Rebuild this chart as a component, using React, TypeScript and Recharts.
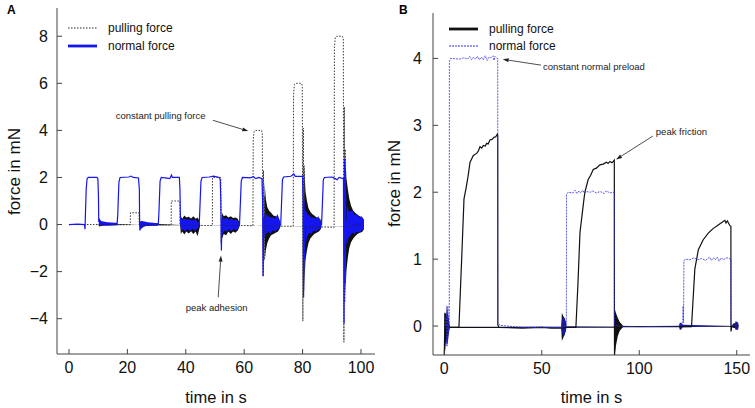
import React from 'react'
import {
  Area,
  ComposedChart,
  Line,
  ReferenceDot,
  ReferenceLine,
  XAxis,
  YAxis,
} from 'recharts'

const FONT = '"Liberation Sans", Arial, Helvetica, sans-serif'

// ---- panel A: stepped pulling force, constant normal force pulses ----
const xTicksA = [0, 20, 40, 60, 80, 100]
const yTicksA = [-4, -2, 0, 2, 4, 6, 8]

// [time s, force mN]
const pullA = [
  [0, 0], [21, 0], [21.05, 0.5], [24, 0.5], [24.05, -0.02], [35, -0.02], [35.05, 1.0],
  [38, 1.0], [38.05, -0.03], [44.8, -0.04], [49.1, -0.04], [49.15, 2.0], [52, 2.0],
  [52.1, -0.8], [52.3, 0.3], [52.5, -0.04], [58.4, -0.04], [63.0, -0.05], [63.1, 3.6],
  [63.4, 3.95], [63.8, 4.0], [65.9, 4.0], [66.2, 3.9], [66.45, -2.2], [66.6, 2.3],
  [66.8, -1.5], [67.0, 1.2], [67.3, -0.05], [72.4, -0.07], [76.8, -0.07], [76.9, 5.5],
  [77.2, 5.95], [77.7, 6.0], [79.6, 6.0], [79.9, 5.9], [80.1, -4.1], [80.25, 4.1],
  [80.4, -2.8], [80.55, 2.5], [80.8, -0.1], [86.4, -0.1], [90.8, -0.12], [90.9, 7.5],
  [91.2, 7.95], [91.7, 8.0], [93.6, 8.0], [93.95, 7.9], [94.15, -5.0], [94.3, 5.0],
  [94.45, -3.3], [94.6, 3.2], [94.8, -0.1], [101, 0],
]

// [time, low, high] envelope of the oscillating pulling force
const pullNoiseA = [
  [10.1, 0, 0], [10.3, -0.08, 0.06], [12, -0.03, 0.03], [24.2, -0.02, -0.02], [24.4, -0.2, 0.1],
  [26, -0.06, 0.05], [30.5, -0.03, 0.02], [38.1, -0.03, -0.02], [38.3, -0.4, 0.35],
  [38.8, -0.3, 0.25], [39.5, -0.42, 0.38], [40.2, -0.3, 0.3], [41, -0.38, 0.33],
  [41.8, -0.28, 0.26], [42.6, -0.4, 0.35], [43.4, -0.3, 0.25], [44, -0.5, 0.3],
  [44.5, -0.25, 0.2], [44.8, -0.1, 0.05], [45, -0.04, -0.04],
  [52.3, -0.04, -0.03], [52.4, -0.6, 0.5], [53, -0.4, 0.35], [53.8, -0.45, 0.4],
  [54.6, -0.3, 0.3], [55.4, -0.4, 0.35], [56.2, -0.3, 0.28], [57, -0.35, 0.3],
  [57.8, -0.25, 0.25], [58.3, -0.12, 0.1], [58.5, -0.04, -0.04],
  [66.9, -0.05, -0.04], [67.0, -1.6, 1.8], [67.4, -1.1, 1.1], [67.9, -0.8, 0.75],
  [68.5, -0.6, 0.6], [69.2, -0.45, 0.5], [70, -0.4, 0.38], [70.8, -0.35, 0.35],
  [71.6, -0.3, 0.3], [72.2, -0.15, 0.15], [72.5, -0.07, -0.07],
  [80.5, -0.08, -0.07], [80.6, -2.6, 2.4], [81, -1.5, 1.4], [81.5, -1.1, 1.0], [82, -0.8, 0.7],
  [82.6, -0.6, 0.55], [83.3, -0.5, 0.45], [84, -0.4, 0.38], [84.8, -0.35, 0.3],
  [85.6, -0.3, 0.28], [86.2, -0.2, 0.2], [86.5, -0.1, -0.1],
  [94.55, -0.1, -0.09], [94.65, -3.0, 3.0], [95, -2.0, 2.0], [95.5, -1.4, 1.5], [96, -1.0, 1.1],
  [96.6, -0.75, 0.8], [97.3, -0.6, 0.6], [98, -0.5, 0.5], [98.8, -0.4, 0.42],
  [99.6, -0.35, 0.35], [100.4, -0.32, 0.3], [101, -0.2, 0.2],
]

const normalA = [
  [0, 0], [3, 0.02], [5.3, 0.0], [5.5, -0.2], [5.6, 0.3], [5.9, 1.5], [6.2, 1.95], [6.6, 2.0],
  [9.6, 2.0], [9.9, 1.95], [10.1, 1.2], [10.2, 0.1], [10.4, 0.25], [10.6, 0.05], [13, 0.05],
  [16.5, 0.05], [16.7, 0.4], [17.1, 1.8], [17.5, 2.0], [20.5, 2.02], [21.2, 2.06], [22, 2.0],
  [23.8, 1.98], [24.1, 1.5], [24.2, 0.0], [24.3, -0.25], [24.5, 0.1], [27, 0.02], [30.6, 0.02],
  [30.8, 0.5], [31.2, 1.85], [31.6, 2.0], [33.5, 1.97], [34.5, 1.95], [35.1, 2.1], [35.4, 2.0],
  [37.8, 2.0], [38.0, 1.5], [38.2, 0.0], [44.6, 0.0], [44.8, 0.6], [45.2, 1.85], [45.6, 2.0],
  [48, 2.02], [49.5, 2.06], [51.5, 2.0], [51.8, 1.9], [52.0, 1.0], [52.2, -1.1], [52.4, 0.2],
  [52.6, 0.0], [58.4, 0.0], [58.6, 0.6], [59.0, 1.85], [59.4, 2.0], [62, 1.98], [63.2, 2.03],
  [64, 1.95], [65, 2.0], [66.1, 1.95], [66.3, 1.0], [66.5, -2.2], [66.7, 0.3], [66.9, 0.0],
  [72.5, 0.0], [72.7, 0.6], [73.1, 1.9], [73.5, 2.02], [76, 2.05], [77, 2.15], [77.5, 2.05],
  [80.0, 2.05], [80.2, 1.0], [80.35, -3.1], [80.5, 1.0], [80.7, -1.5], [80.9, 0.6], [81.2, 0.0],
  [86.5, 0.0], [86.7, 0.6], [87.1, 1.9], [87.5, 2.0], [90, 2.02], [91.2, 1.95], [91.8, 1.9],
  [92.5, 2.0], [94.0, 1.95], [94.2, -4.2], [94.35, 2.8], [94.5, -2.5], [94.7, 1.5],
  [94.9, -0.8], [95.2, 0.1], [101, 0.0],
]

const normalNoiseA = [
  [10.2, 0, 0], [10.4, -0.05, 0.25], [11, -0.05, 0.15], [13, -0.05, 0.1], [16.5, -0.03, 0.05],
  [16.6, 0.05, 0.05], [24.3, 0.0, 0.0], [24.5, -0.25, 0.15], [25, -0.1, 0.15], [27, -0.05, 0.1],
  [30.5, -0.05, 0.05], [30.6, 0.02, 0.02],
  [38.2, 0, 0], [38.4, -0.3, 0.28], [39, -0.2, 0.2], [39.8, -0.3, 0.25], [40.6, -0.18, 0.2],
  [41.4, -0.28, 0.22], [42.2, -0.18, 0.18], [43, -0.25, 0.22], [43.8, -0.2, 0.15],
  [44.4, -0.1, 0.08], [44.6, 0, 0],
  [52.4, 0, 0], [52.5, -0.45, 0.35], [53.2, -0.25, 0.25], [54, -0.3, 0.28], [54.8, -0.2, 0.2],
  [55.6, -0.28, 0.25], [56.4, -0.18, 0.18], [57.2, -0.25, 0.22], [58, -0.15, 0.12], [58.35, 0, 0],
  [66.8, 0, 0], [66.9, -0.6, 0.5], [67.5, -0.4, 0.45], [68.2, -0.3, 0.35], [69, -0.38, 0.3],
  [69.8, -0.25, 0.3], [70.6, -0.3, 0.25], [71.4, -0.2, 0.45], [72.1, -0.2, 0.2], [72.4, 0, 0],
  [81.0, 0, 0], [81.1, -0.8, 0.6], [81.6, -0.5, 0.45], [82.3, -0.35, 0.38], [83, -0.4, 0.3],
  [83.8, -0.25, 0.3], [84.6, -0.3, 0.25], [85.4, -0.2, 0.35], [86.1, -0.2, 0.15], [86.4, 0, 0],
  [95.1, 0, 0], [95.2, -0.9, 0.8], [95.7, -0.55, 0.6], [96.4, -0.45, 0.55], [97.1, -0.35, 0.6],
  [97.8, -0.4, 0.4], [98.6, -0.3, 0.45], [99.4, -0.35, 0.3], [100.2, -0.25, 0.35], [101, -0.2, 0.2],
]

// ---- panel B: constant normal preload, pulling force builds to peak friction ----
const xTicksB = [0, 50, 100, 150]
const yTicksB = [0, 1, 2, 3, 4]

const pullB = [
  [0, -0.45], [0.3, 0.2], [0.6, -0.2], [0.9, 0.15], [1.2, -0.15], [1.5, 0.1], [1.8, -0.1],
  [2.1, 0.05], [2.5, -0.03], [3, -0.02], [7.5, -0.02], [8.9, 1.0], [10.1, 1.9], [11.1, 2.05],
  [12.2, 2.24], [13.2, 2.45], [14.9, 2.55], [16.6, 2.58], [17.5, 2.62], [18.3, 2.68],
  [19.2, 2.66], [20, 2.7], [21, 2.69], [21.7, 2.73], [22.5, 2.72], [23.4, 2.78], [24.5, 2.79],
  [25.5, 2.82], [26.4, 2.83], [27.2, 2.87], [27.4, 2.85], [27.45, 0.02], [28, -0.02],
  [40, -0.03], [50, -0.02], [55, -0.03], [60, -0.03], [62.5, -0.02], [67.5, -0.02],
  [68.5, 0.6], [69.6, 1.4], [71.6, 1.89], [72.1, 2.0], [73.8, 2.19], [75, 2.25], [76.4, 2.34],
  [78, 2.36], [79.8, 2.41], [81.5, 2.42], [83.2, 2.45], [84, 2.43], [85, 2.46], [86, 2.44],
  [87.2, 2.48], [87.25, 0.25], [87.3, -0.45], [88, -0.01], [92, -0.01], [110, -0.01],
  [126.8, -0.01], [128.5, 0.85], [130.3, 1.14], [132.8, 1.29], [135.4, 1.39], [138, 1.46],
  [140, 1.5], [141.4, 1.53], [142.5, 1.55], [143.9, 1.58], [144.5, 1.54], [145.2, 1.57],
  [146.5, 1.5], [147, 1.49], [147.05, -0.08], [147.5, 0], [150.8, 0],
]

const pullNoiseB = [
  [0.2, -0.45, 0.2], [0.8, -0.25, 0.18], [1.5, -0.2, 0.15], [2.2, -0.1, 0.08], [2.8, -0.03, -0.01],
  [60, -0.03, -0.02], [60.3, -0.22, 0.2], [61, -0.18, 0.15], [62, -0.1, 0.1], [62.5, -0.03, -0.02],
  [87.25, -0.03, -0.02], [87.3, -0.44, 0.27], [88, -0.3, 0.2], [89, -0.15, 0.12], [90, -0.07, 0.06],
  [91.8, -0.01, 0.0], [147.2, -0.01, 0.0], [148.5, -0.03, 0.04], [150.8, -0.03, 0.03],
]

const normalB = [
  [0.5, 0], [1.0, 0.15], [1.4, -0.3], [1.8, 0.3], [2.2, -0.1], [2.55, 0.05], [2.6, 3.95],
  [3.2, 4.0], [8, 3.99], [10, 4.01], [12, 3.99], [13, 4.03], [14, 3.98], [15, 4.02], [16, 3.99],
  [17, 4.03], [18, 3.98], [19, 4.02], [20, 3.98], [21, 4.04], [22, 3.97], [23, 4.02], [24, 4.01],
  [25, 4.04], [25.5, 3.97], [26, 4.03], [27, 4.0], [27.4, 4.0], [27.45, 0.05], [28.5, 0.01],
  [40, -0.02], [60, -0.02], [62.6, 0.0], [62.7, 1.97], [63.5, 2.0], [66, 1.99], [67, 2.03],
  [68, 1.98], [69, 2.02], [70, 1.99], [71, 2.03], [72, 1.98], [73, 2.01], [75, 2.0], [76, 2.02],
  [78, 1.99], [80, 2.01], [82, 1.98], [83, 2.02], [85, 1.99], [87.2, 2.0], [87.25, 0.02],
  [89, 0.0], [100, -0.01], [120, 0.0], [122.3, 0.02], [122.5, 0.3], [122.7, 0.05], [122.9, 0.98],
  [124, 1.0], [126, 0.99], [128, 1.02], [130, 0.99], [132, 1.01], [134, 0.98], [136, 1.03],
  [137, 0.98], [138, 1.02], [139, 0.99], [140, 1.03], [141, 0.97], [142, 1.02], [143, 0.99],
  [145, 1.02], [147, 1.0], [147.05, 0.01], [150.8, 0.0],
]

const normalNoiseB = [
  [0.8, -0.05, 0.05], [1.2, -0.3, 0.32], [1.8, -0.25, 0.2], [2.4, -0.1, 0.1], [2.6, 0, 0],
  [60, -0.02, -0.01], [60.5, -0.12, 0.12], [61.5, -0.15, 0.12], [62.5, -0.05, 0.05],
  [62.6, -0.01, 0], [120.3, 0, 0], [120.8, -0.06, 0.05], [121.5, -0.05, 0.05], [122.3, -0.02, 0.02],
  [148.5, 0, 0], [149.5, -0.06, 0.07], [150.8, -0.05, 0.05],
]

const toPts = (arr: number[][]) => arr.map(([t, v]) => ({ t, v }))
const toBand = (arr: number[][]) => arr.map(([t, lo, hi]) => ({ t, r: [lo, hi] }))

const minus = (v: number) => (v < 0 ? `\u2212${Math.abs(v)}` : String(v))

const tickStyle = { fontSize: 16, fill: '#111', fontFamily: FONT }
const axisColor = '#444'

function Arrow(props: any) {
  const { x1, y1, x2, y2 } = props
  const a = Math.atan2(y2 - y1, x2 - x1)
  const L = 6
  const W = 2
  const bx = x2 - L * Math.cos(a)
  const by = y2 - L * Math.sin(a)
  const px = -Math.sin(a) * W
  const py = Math.cos(a) * W
  return (
    <g>
      <line x1={x1} y1={y1} x2={bx} y2={by} stroke="#222" strokeWidth={0.8} />
      <polygon points={`${x2},${y2} ${bx + px},${by + py} ${bx - px},${by - py}`} fill="#222" />
    </g>
  )
}

const yTitle = (x: number, y: number) => () => (
  <text
    x={x}
    y={y}
    transform={`rotate(-90 ${x} ${y})`}
    textAnchor="middle"
    fontSize={17}
    fontFamily={FONT}
    fill="#111"
  >
    force in mN
  </text>
)

function LegendRow({ top, left, sample, label }: any) {
  return (
    <div style={{ position: 'absolute', top, left, height: 14, display: 'flex', alignItems: 'center' }}>
      <svg width={30} height={14}>{sample}</svg>
      <span style={{ marginLeft: 10, fontSize: 12, lineHeight: '14px', fontFamily: FONT, color: '#111' }}>
        {label}
      </span>
    </div>
  )
}

function PanelA() {
  return (
    <ComposedChart width={380} height={408} margin={{ top: 8, right: 5, bottom: 0, left: 0 }}>
      <XAxis
        type="number"
        dataKey="t"
        domain={[-4.1, 104.8]}
        ticks={xTicksA}
        allowDataOverflow
        height={54}
        tickSize={-5}
        tickMargin={13}
        tick={tickStyle}
        stroke={axisColor}
        label={{ value: 'time in s', position: 'insideBottom', offset: 5, fontSize: 16.5, fill: '#111', fontFamily: FONT }}
      />
      <XAxis xAxisId="top" orientation="top" type="number" dataKey="t" domain={[-4.1, 104.8]}
        ticks={xTicksA} allowDataOverflow height={0} tickSize={-5} tick={false} stroke={axisColor} />
      <YAxis
        type="number"
        domain={[-5.5, 9.2]}
        ticks={yTicksA}
        allowDataOverflow
        width={57}
        tickSize={-5}
        tickMargin={14}
        tick={tickStyle}
        tickFormatter={minus}
        stroke={axisColor}
        label={{ content: yTitle(20, 171.5) }}
      />
      <YAxis yAxisId="right" orientation="right" type="number" domain={[-5.5, 9.2]} ticks={yTicksA}
        allowDataOverflow width={0} tickSize={-5} tick={false} stroke={axisColor} />

      <Area data={toBand(pullNoiseA)} dataKey="r" type="linear" stroke="none" fill="#111" fillOpacity={1} isAnimationActive={false} />
      <Line data={toPts(pullA)} dataKey="v" type="linear" stroke="#222" strokeWidth={0.9} strokeDasharray="1.5 1.5" dot={false} activeDot={false} isAnimationActive={false} />
      <Area data={toBand(normalNoiseA)} dataKey="r" type="linear" stroke="none" fill="#1515f0" fillOpacity={1} isAnimationActive={false} />
      <Line data={toPts(normalA)} dataKey="v" type="linear" stroke="#1515f0" strokeWidth={1.2} dot={false} activeDot={false} isAnimationActive={false} />

      <ReferenceLine segment={[{ x: 49.3, y: 4.43 }, { x: 61.4, y: 3.97 }]} shape={Arrow} />
      <ReferenceDot x={16.0} y={4.61} r={0} stroke="none"
        label={{ value: 'constant pulling force', position: 'right', offset: 0, fontSize: 9.5, fill: '#222', fontFamily: FONT }} />
      <ReferenceLine segment={[{ x: 51.1, y: -3.09 }, { x: 52.05, y: -1.32 }]} shape={Arrow} />
      <ReferenceDot x={40.0} y={-3.52} r={0} stroke="none"
        label={{ value: 'peak adhesion', position: 'right', offset: 0, fontSize: 9.5, fill: '#222', fontFamily: FONT }} />
    </ComposedChart>
  )
}

function PanelB() {
  return (
    <ComposedChart width={375} height={408} margin={{ top: 13, right: 5, bottom: 0, left: 0 }}>
      <XAxis
        type="number"
        dataKey="t"
        domain={[-5.8, 156.8]}
        ticks={xTicksB}
        allowDataOverflow
        height={53}
        tickSize={-5}
        tickMargin={13}
        tick={tickStyle}
        stroke={axisColor}
        label={{ value: 'time in s', position: 'insideBottom', offset: 5, fontSize: 16.5, fill: '#111', fontFamily: FONT }}
      />
      <XAxis xAxisId="top" orientation="top" type="number" dataKey="t" domain={[-5.8, 156.8]}
        ticks={xTicksB} allowDataOverflow height={0} tickSize={-5} tick={false} stroke={axisColor} />
      <YAxis
        type="number"
        domain={[-0.433, 4.679]}
        ticks={yTicksB}
        allowDataOverflow
        width={53}
        tickSize={-5}
        tickMargin={16}
        tick={tickStyle}
        stroke={axisColor}
        label={{ content: yTitle(20, 183.5) }}
      />
      <YAxis yAxisId="right" orientation="right" type="number" domain={[-0.433, 4.679]} ticks={yTicksB}
        allowDataOverflow width={0} tickSize={-5} tick={false} stroke={axisColor} />

      <Area data={toBand(pullNoiseB)} dataKey="r" type="linear" stroke="none" fill="#111" fillOpacity={1} isAnimationActive={false} />
      <Line data={toPts(pullB)} dataKey="v" type="linear" stroke="#111" strokeWidth={1.2} dot={false} activeDot={false} isAnimationActive={false} />
      <Area data={toBand(normalNoiseB)} dataKey="r" type="linear" stroke="none" fill="#1a1a9a" fillOpacity={1} isAnimationActive={false} />
      <Line data={toPts(normalB)} dataKey="v" type="linear" stroke="#3030f0" strokeWidth={0.8} strokeDasharray="2 1" dot={false} activeDot={false} isAnimationActive={false} />

      <ReferenceLine segment={[{ x: 49.6, y: 3.9 }, { x: 29.96, y: 3.987 }]} shape={Arrow} />
      <ReferenceDot x={50.6} y={3.87} r={0} stroke="none"
        label={{ value: 'constant normal preload', position: 'right', offset: 0, fontSize: 9.5, fill: '#222', fontFamily: FONT }} />
      <ReferenceLine segment={[{ x: 107.0, y: 2.84 }, { x: 88.1, y: 2.49 }]} shape={Arrow} />
      <ReferenceDot x={108.5} y={2.905} r={0} stroke="none"
        label={{ value: 'peak friction', position: 'right', offset: 0, fontSize: 9.5, fill: '#222', fontFamily: FONT }} />
    </ComposedChart>
  )
}

const panelTitle = (text: string, left: number) => (
  <div style={{ position: 'absolute', top: 3, left, fontSize: 12, lineHeight: '14px', fontWeight: 'bold', fontFamily: FONT }}>
    {text}
  </div>
)

export default function App() {
  return (
    <div style={{ position: 'absolute', left: 0, top: 0, width: 755, height: 408, background: '#fff' }}>
      <div style={{ position: 'absolute', left: 0, top: 0 }}>
        <PanelA />
      </div>
      <div style={{ position: 'absolute', left: 380, top: 0 }}>
        <PanelB />
      </div>
      {panelTitle('A', 7)}
      {panelTitle('B', 399)}

      <LegendRow top={21} left={68} label="pulling force"
        sample={<line x1={0} y1={7} x2={29} y2={7} stroke="#222" strokeWidth={1} strokeDasharray="1.5 1.5" />} />
      <LegendRow top={39} left={68} label="normal force"
        sample={<line x1={0} y1={7} x2={29} y2={7} stroke="#1515f0" strokeWidth={2.8} />} />
      <LegendRow top={22} left={449} label="pulling force"
        sample={<line x1={0} y1={7} x2={29} y2={7} stroke="#111" strokeWidth={2.8} />} />
      <LegendRow top={39} left={449} label="normal force"
        sample={<line x1={0} y1={7} x2={29} y2={7} stroke="#3030f0" strokeWidth={1} strokeDasharray="2 1" />} />
    </div>
  )
}
